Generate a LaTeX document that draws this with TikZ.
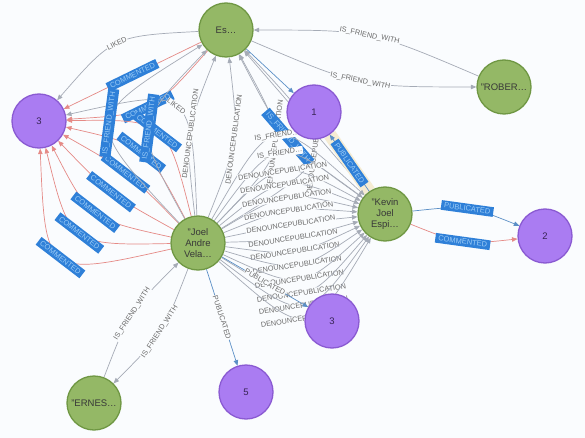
\documentclass[tikz,border=0pt]{standalone}
\usepackage{fontspec}
\setmainfont{Liberation Sans}
\usetikzlibrary{calc,arrows.meta}
\definecolor{bg-white}{HTML}{FAFCFE}
\definecolor{user-green}{HTML}{94B866}
\definecolor{user-border}{HTML}{6F9743}
\definecolor{post-purple}{HTML}{AA7CF2}
\definecolor{post-border}{HTML}{8A5AD2}
\definecolor{rel-gray}{HTML}{A5ABB6}
\definecolor{rel-red}{HTML}{E58A86}
\definecolor{rel-blue}{HTML}{5B8FC6}
\definecolor{sel-blue}{HTML}{2F80D8}
\definecolor{sel-text}{HTML}{9ACBF6}
\definecolor{sel-halo}{HTML}{F5ECD3}
\definecolor{label-gray}{HTML}{6A6A6A}
\pgfdeclarelayer{edges}
\pgfsetlayers{edges,main}
\tikzset{
    user-node/.style = {circle, draw=user-border, fill=user-green, line width=1.3pt, minimum size=54pt, inner sep=0pt, align=center, text=black!78, font=\fontsize{9.5}{11}\selectfont},
    post-node/.style = {circle, draw=post-border, fill=post-purple, line width=1.3pt, minimum size=54pt, inner sep=0pt, text=black!60!post-border, font=\fontsize{9.5}{11}\selectfont},
    rel-line/.style = {draw=rel-gray, line width=0.7pt, -{Triangle[length=5.5pt,width=4.5pt]}},
    rel-comment/.style = {rel-line, draw=rel-red},
    rel-publish/.style = {rel-line, draw=rel-blue},
    rel-label/.style = {sloped, fill=bg-white, text=label-gray, inner sep=0.6pt, font=\fontsize{7.3}{8}\selectfont},
    sel-label/.style = {sloped, fill=sel-blue, text=sel-text, inner xsep=3pt, inner ysep=2.2pt, font=\fontsize{7.5}{8}\selectfont},
}

\begin{document}
\begin{tikzpicture}[x=1pt, y=-1pt]
\useasboundingbox (0,0) rectangle (585,438);
% people
\node[user-node] (es) at (226,30) {Es…};
\node[user-node] (rober) at (504,87) {"ROBER…};
\node[user-node] (kevin) at (385,214) {"Kevin\\Joel\\Espi…};
\node[user-node] (joel) at (198,243) {"Joel\\Andre\\Vela…};
\node[user-node] (ernes) at (94,403) {"ERNES…};
% publications
\node[post-node] (ncA) at (39,121) {3};
\node[post-node] (nc1) at (314,112) {1};
\node[post-node] (nc2) at (545,236) {2};
\node[post-node] (ncB) at (332,321) {3};
\node[post-node] (nc5) at (246,392) {5};

\begin{pgfonlayer}{edges}
\fill[bg-white] (0,0) rectangle (585,438);
% es -> left 3
\draw[rel-line] (es) .. controls ($(es)!0.5!(ncA)!-44pt!90:(ncA)$) .. (ncA) node[midway, rel-label] {LIKED};
\foreach \c in {0,43}
    \draw[rel-comment] (es) .. controls ($(es)!0.5!(ncA)!\c pt!90:(ncA)$) .. (ncA) node[midway, sel-label] {COMMENTED};
% joel -> left 3
\foreach \c in {120,80,47,15,-14,-46,-79}
    \draw[rel-comment] (joel) .. controls ($(joel)!0.5!(ncA)!\c pt!90:(ncA)$) .. (ncA) node[midway, sel-label] {COMMENTED};
\draw[rel-line] (joel) .. controls ($(joel)!0.5!(ncA)!-120pt!90:(ncA)$) .. (ncA) node[midway, rel-label] {LIKED};
% joel -> es
\foreach \c in {131,79}
    \draw[rel-line] (joel) .. controls ($(joel)!0.5!(es)!\c pt!90:(es)$) .. (es) node[midway, sel-label] {IS\_FRIEND\_WITH};
\foreach \c in {27,-27,-79,-131}
    \draw[rel-line] (joel) .. controls ($(joel)!0.5!(es)!\c pt!90:(es)$) .. (es) node[midway, rel-label] {DENOUNCEPUBLICATION};
% kevin, es and 1
\draw[rel-line] (kevin) -- (es);
\draw[rel-line] (kevin) .. controls ($(kevin)!0.5!(es)!29pt!90:(es)$) .. (es) node[midway, sel-label] {IS\_FRIEND\_WITH};
\draw[rel-publish] (es) -- (nc1);
\draw[sel-halo, line width=13pt] (kevin) -- (nc1);
\draw[rel-publish] (kevin) -- (nc1) node[midway, sel-label] {PUBLICATED};
% es <-> rober
\draw[rel-line] (rober) .. controls ($(rober)!0.5!(es)!-29pt!90:(es)$) .. (es) node[midway, rel-label] {IS\_FRIEND\_WITH};
\draw[rel-line] (es) .. controls ($(es)!0.5!(rober)!-29pt!90:(rober)$) .. (rober) node[midway, rel-label] {IS\_FRIEND\_WITH};
% kevin -> 2
\draw[rel-publish] (kevin) .. controls ($(kevin)!0.5!(nc2)!20pt!90:(nc2)$) .. (nc2) node[midway, sel-label] {PUBLICATED};
\draw[rel-comment] (kevin) .. controls ($(kevin)!0.5!(nc2)!-20pt!90:(nc2)$) .. (nc2) node[midway, sel-label] {COMMENTED};
% ernes <-> joel
\draw[rel-line] (ernes) .. controls ($(ernes)!0.5!(joel)!20pt!90:(joel)$) .. (joel) node[midway, rel-label] {IS\_FRIEND\_WITH};
\draw[rel-line] (joel) .. controls ($(joel)!0.5!(ernes)!20pt!90:(ernes)$) .. (ernes) node[midway, rel-label] {IS\_FRIEND\_WITH};
% joel -> kevin
\foreach \c in {118,95}
    \draw[rel-line] (joel) .. controls ($(joel)!0.5!(kevin)!\c pt!90:(kevin)$) .. (kevin) node[midway, rel-label] {IS\_FRIEND…};
\foreach \c in {72,55,38,22,5,-12,-28,-45,-63,-81,-97,-114}
    \draw[rel-line] (joel) .. controls ($(joel)!0.5!(kevin)!\c pt!90:(kevin)$) .. (kevin) node[midway, rel-label] {DENOUNCEPUBLICATION};
% joel -> bottom posts
\draw[rel-publish] (joel) -- (ncB) node[midway, rel-label] {PUBLICATED};
\draw[rel-publish] (joel) -- (nc5) node[midway, rel-label] {PUBLICATED};
\end{pgfonlayer}
\end{tikzpicture}
\end{document}
